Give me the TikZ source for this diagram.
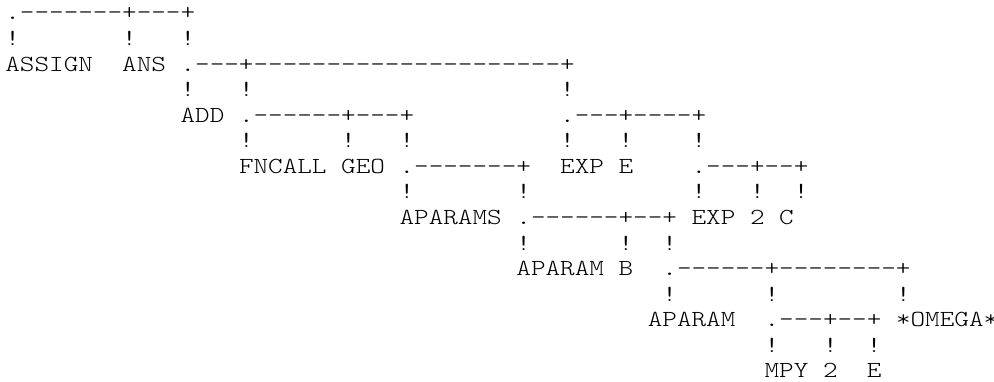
\documentclass[tikz,border=0pt]{standalone}
\usepackage{fontspec}
% a light slab-serif typewriter face, widened to a 14.6pt character cell
\setmonofont{Latin Modern Mono Light}[FakeStretch=1.209]
\tikzset{
  glyphs/.style={inner sep=0pt, outer sep=0pt, anchor=base west,
    font=\ttfamily\fontsize{23pt}{25.57pt}\selectfont, text=black},
}
% one run of characters, placed on the character grid: name, column, row, text
\newcommand\cell[4]{\node[glyphs] (#1) at ({5.4+14.6*(#2)},{362-25.57*((#3)-1)}) {#4};}
% a row of vertical bars at the given columns
\newcommand\bars[2]{\foreach \c in {#2} {\node[glyphs] (bar-#1-\c) at ({5.4+14.6*\c},{362-25.57*((#1)-1)}) {!};}}
\begin{document}
\begin{tikzpicture}[x=1pt,y=1pt]
\useasboundingbox (0,0) rectangle (994,382);
\fill[white] (0,0) rectangle (994,382);

% root: ASSIGN ANS (ADD ...)
\cell{root}{0}{1}{.-------+---+}
\bars{2}{0,8,12}
\cell{assign}{0}{3}{ASSIGN}
\cell{ans}{8}{3}{ANS}
\cell{addbr}{12}{3}{.---+---------------------+}
\bars{4}{12,16,38}

% ADD (FNCALL ...) (EXP ...)
\cell{add}{12}{5}{ADD}
\cell{fnbr}{16}{5}{.------+---+}
\cell{expbr}{38}{5}{.---+----+}
\bars{6}{16,23,27,38,42,47}

\cell{fncall}{16}{7}{FNCALL}
\cell{geo}{23}{7}{GEO}
\cell{apbr}{27}{7}{.-------+}
\cell{expa}{38}{7}{EXP}
\cell{ea}{42}{7}{E}
\cell{expbrb}{47}{7}{.---+--+}
\bars{8}{27,35,47,51,54}

\cell{aparams}{27}{9}{APARAMS}
\cell{apsbr}{35}{9}{.------+--+}
\cell{expb}{47}{9}{EXP}
\cell{two}{51}{9}{2}
\cell{cc}{53}{9}{C}
\bars{10}{35,42,45}

\cell{aparama}{35}{11}{APARAM}
\cell{bb}{42}{11}{B}
\cell{apbrb}{45}{11}{.------+--------+}
\bars{12}{45,52,61}

\cell{aparamb}{44}{13}{APARAM}
\cell{mpybr}{52}{13}{.---+--+}
\cell{omega}{61}{13}{*OMEGA*}
\bars{14}{52,56,59}

\cell{mpy}{52}{15}{MPY}
\cell{twob}{56}{15}{2}
\cell{eb}{59}{15}{E}
\end{tikzpicture}
\end{document}
